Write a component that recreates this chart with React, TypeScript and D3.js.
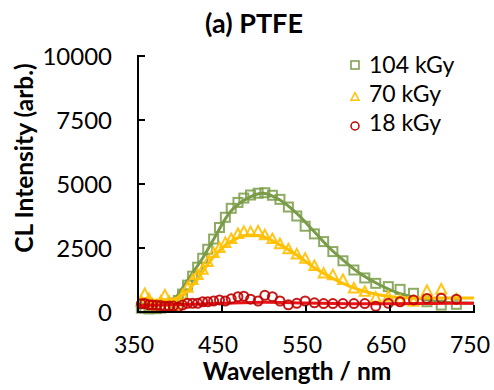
import React from "react";
import * as d3 from "d3";

// Measured wavelengths (nm) of the CL spectra
const wavelengths = [354, 358, 363, 367, 372, 377, 382, 387, 392, 398, 403, 409, 415, 421, 427, 433, 440, 447, 454, 461, 469, 476, 484, 493, 501, 510, 519, 529, 539, 549, 560, 571, 582, 594, 607, 620, 633, 648, 662, 678, 694, 711, 729];

// Series values (arb.)
const kGy104 = [150, 150, 120, 150, 130, 150, 200, 250, 350, 450, 700, 1050, 1400, 1750, 2100, 2450, 2850, 3300, 3700, 4050, 4280, 4450, 4570, 4640, 4660, 4560, 4400, 4100, 3750, 3350, 3050, 2750, 2360, 2000, 1640, 1330, 1120, 990, 885, 730, 400, 270, 300];
const kGy70 = [400, 700, 500, 300, 250, 400, 650, 400, 250, 400, 650, 950, 1250, 1450, 1650, 1950, 2300, 2500, 2700, 2850, 3050, 3130, 3120, 3150, 3000, 2850, 2650, 2450, 2250, 2080, 1800, 1500, 1440, 1250, 920, 790, 560, 600, 450, 400, 820, 880, 500];
const kGy18 = [320, 330, 280, 270, 260, 250, 220, 230, 230, 200, 270, 340, 340, 340, 400, 400, 430, 470, 430, 520, 600, 620, 500, 430, 650, 600, 430, 280, 340, 430, 360, 330, 330, 330, 330, 330, 220, 340, 400, 470, 530, 540, 500];

// Fitted curves
const fit104Wl = [350, 380, 392, 396, 412, 428, 444, 460, 480, 499, 519, 539, 558, 578, 590, 614, 638, 661, 685, 708, 750];
const fit104 = [300, 330, 420, 600, 1380, 2160, 3070, 3920, 4440, 4640, 4375, 3855, 3200, 2500, 2150, 1510, 1055, 730, 535, 400, 340];
const fit70Wl = [350, 390, 400, 410, 420, 440, 460, 480, 499, 519, 539, 558, 578, 590, 614, 638, 661, 700, 750];
const fit70 = [480, 480, 600, 850, 1250, 2160, 2750, 3000, 2940, 2620, 2230, 1770, 1380, 1180, 860, 665, 570, 550, 550];
const fit18Wl = [350, 400, 450, 500, 550, 600, 650, 700, 750];
const fit18 = [250, 290, 340, 380, 350, 320, 320, 335, 340];

const xTicks = [350, 450, 550, 650, 750];
const yTicks = [0, 2500, 5000, 7500, 10000];
const legendLabels = ["104 kGy", "70 kGy", "18 kGy"];

const GREEN = "#7a9c48";
const YELLOW = "#FFC000";
const RED = "#C00000";
const RED_LINE = "#E8141A";
const FONT = "Lato, 'Open Sans', sans-serif";

export default function App() {
  const W = 494, H = 390;
  const x = d3.scaleLinear().domain([350, 750]).range([138, 474]);
  const y = d3.scaleLinear().domain([0, 10000]).range([312, 56]);
  const line = (wl: number[], v: number[]) =>
    d3.line<number>().x((_, i) => x(wl[i])).y((d) => y(d)).curve(d3.curveCatmullRom)(v) || "";
  const tri = (cx: number, cy: number, s: number) =>
    `M${cx},${cy - s * 0.55}L${cx + s * 0.5},${cy + s * 0.4}L${cx - s * 0.5},${cy + s * 0.4}Z`;

  return (
    <svg width={W} height={H} style={{ position: "absolute", left: 0, top: 0, background: "#fff" }} fontFamily={FONT}>
      <text x={254} y={33} textAnchor="middle" fontSize={27} fontWeight="bold">(a) PTFE</text>

      {/* series 104 kGy */}
      <g fill="none" stroke={GREEN} strokeWidth={2} strokeOpacity={0.85}>
        {wavelengths.map((w, i) => (
          <rect key={i} x={x(w) - 4.5} y={y(kGy104[i]) - 4.5} width={9} height={9} />
        ))}
      </g>
      <path d={line(fit104Wl, fit104)} fill="none" stroke={GREEN} strokeWidth={3} />

      {/* series 70 kGy */}
      <g fill="none" stroke={YELLOW} strokeWidth={2} strokeOpacity={0.9}>
        {wavelengths.map((w, i) => (
          <path key={i} d={tri(x(w), y(kGy70[i]), 10)} />
        ))}
      </g>
      <path d={line(fit70Wl, fit70)} fill="none" stroke={YELLOW} strokeWidth={3} />

      {/* series 18 kGy */}
      <path d={line(fit18Wl, fit18)} fill="none" stroke={RED_LINE} strokeWidth={3} />
      <g fill="none" stroke={RED} strokeWidth={2} strokeOpacity={0.9}>
        {wavelengths.map((w, i) => (
          <circle key={i} cx={x(w)} cy={y(kGy18[i])} r={4.5} />
        ))}
      </g>

      {/* axes */}
      <line x1={138} x2={138} y1={55} y2={313} stroke="#000" strokeWidth={2} />
      <line x1={137} x2={475} y1={312} y2={312} stroke="#000" strokeWidth={2} />
      {yTicks.map((t) => (
        <g key={t}>
          <line x1={138} x2={145} y1={y(t)} y2={y(t)} stroke="#000" strokeWidth={2} />
          <text x={112} y={y(t)} dy="0.36em" textAnchor="end" fontSize={24}>{t}</text>
        </g>
      ))}
      {xTicks.map((t) => (
        <g key={t}>
          <line x1={x(t)} x2={x(t)} y1={312} y2={305} stroke="#000" strokeWidth={2} />
          <text x={x(t) - 4} y={353} textAnchor="middle" fontSize={23}>{t}</text>
        </g>
      ))}
      <text x={297} y={380} textAnchor="middle" fontSize={24.5} fontWeight="bold">Wavelength / nm</text>
      <text transform="translate(33,158) rotate(-90)" textAnchor="middle" fontSize={24.5} fontWeight="bold">CL Intensity (arb.)</text>

      {/* legend */}
      <rect x={351} y={61} width={8} height={8} fill="none" stroke={GREEN} strokeWidth={1.5} />
      <path d={tri(355, 97, 8)} fill="none" stroke={YELLOW} strokeWidth={1.5} />
      <circle cx={355} cy={126} r={4} fill="none" stroke={RED} strokeWidth={1.5} />
      {legendLabels.map((l, i) => (
        <text key={l} x={369} y={73 + i * 29} fontSize={23}>{l}</text>
      ))}
    </svg>
  );
}
